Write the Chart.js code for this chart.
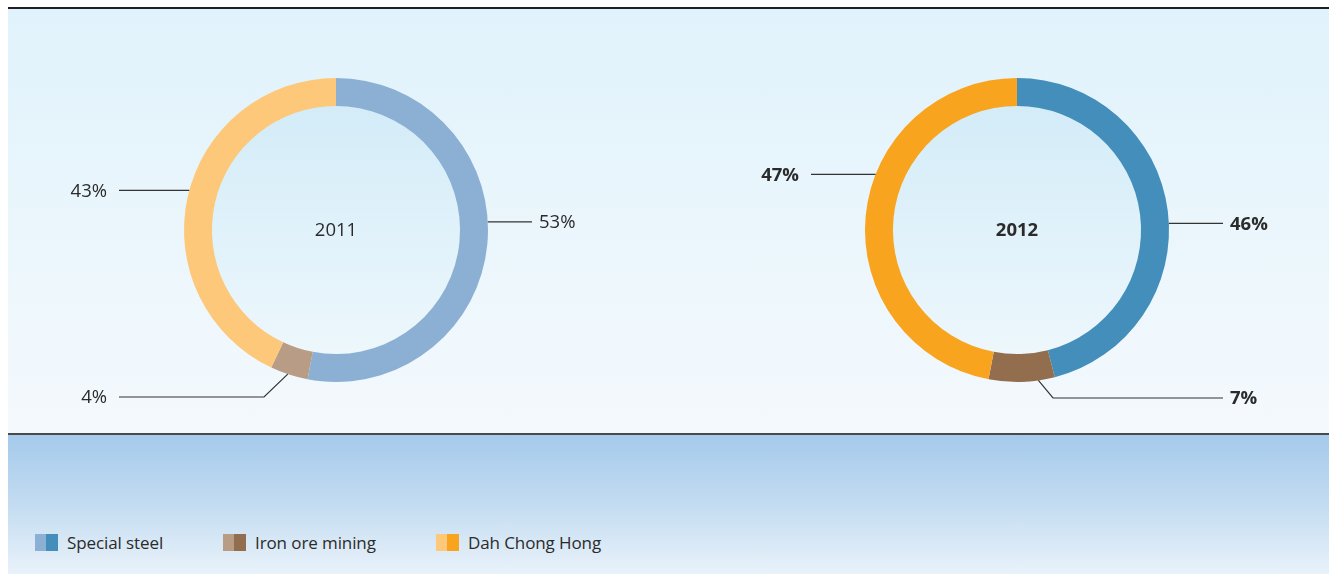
<!DOCTYPE html>
<html>
<head>
<meta charset="utf-8">
<script src="https://cdn.jsdelivr.net/npm/chart.js@4/dist/chart.umd.min.js"></script>
<style>
  html, body { margin:0; padding:0; background:#ffffff; }
  body { width:1329px; height:575px; position:relative; overflow:hidden; font-family:"Open Sans", "Noto Sans", sans-serif; }
  #topline { position:absolute; left:8px; top:7px; width:1321px; height:2px; background:#231f20; }
  #panel { position:absolute; left:8px; top:9px; width:1321px; height:424px;
           background:linear-gradient(to bottom, #e0f2fb 0%, #eaf6fc 50%, #f4f9fd 100%); }
  #sep { position:absolute; left:8px; top:433px; width:1321px; height:2px; background:#4a4a4a; }
  #bottom { position:absolute; left:8px; top:435px; width:1321px; height:139px;
            background:linear-gradient(to bottom, #a5caeb 0%, #c3dcf1 50%, #e9f2fa 100%); }
  canvas { position:absolute; }
  #c1 { left:46px; top:40px; }
  #c2 { left:727px; top:40px; }
  #legend { position:absolute; left:0; top:532px; height:20px; width:1329px; }
  .item { position:absolute; top:0; height:20px; display:flex; align-items:center; color:#2b2b2b; font-size:17px; letter-spacing:-0.1px; white-space:nowrap; }
  .sw { display:inline-block; width:23px; height:17px; margin-right:9px; }
</style>
</head>
<body>
<div id="topline"></div>
<div id="panel"></div>
<div id="sep"></div>
<div id="bottom"></div>
<canvas id="c1" width="580" height="380"></canvas>
<canvas id="c2" width="580" height="380"></canvas>
<div id="legend"></div>
<script>
// ---- data ----
const categories = ['Special steel', 'Iron ore mining', 'Dah Chong Hong'];
const years = ['2011', '2012'];
const share2011 = [53, 4, 43];
const share2012 = [46, 7, 47];
const colors2011 = ['#8cb0d3', '#b89c85', '#fdc87a'];
const colors2012 = ['#438ebb', '#926e4f', '#f8a41f'];

// ---- leader-line layout (per slice): anchor angle on outer edge (deg, canvas), optional elbow, line end ----
const leaders2011 = [
  { angle: -3.1, end: 196, side: 'right' },
  { angle: 108.5, elbow: [-72, 167], end: -217, side: 'left' },
  { angle: 195.1, end: -217, side: 'left' }
];
const leaders2012 = [
  { angle: -2.5, end: 206, side: 'right' },
  { angle: 81.9, elbow: [36, 168], end: 206, side: 'right' },
  { angle: 201.5, end: -206, side: 'left' }
];

const TEXT = '#2b2b2b';
const FONT = '"Open Sans", "Noto Sans", sans-serif';

const doughnutDecor = {
  id: 'doughnutDecor',
  beforeDatasetsDraw(chart, args, opts) {
    const arc = chart.getDatasetMeta(0).data[0];
    const ctx = chart.ctx;
    const r = arc.innerRadius;
    const g = ctx.createLinearGradient(0, arc.y - r, 0, arc.y + r);
    g.addColorStop(0, '#d3ecf8');
    g.addColorStop(1, '#edf7fc');
    ctx.save();
    ctx.beginPath();
    ctx.arc(arc.x, arc.y, r + 1, 0, Math.PI * 2);
    ctx.fillStyle = g;
    ctx.fill();
    ctx.restore();
  },
  afterDatasetsDraw(chart, args, opts) {
    const ctx = chart.ctx;
    const meta = chart.getDatasetMeta(0);
    const values = chart.data.datasets[0].data;
    const weight = opts.bold ? 'bold ' : '';
    ctx.save();
    // centre title
    const a0 = meta.data[0];
    ctx.fillStyle = TEXT;
    ctx.font = weight + '18.5px ' + FONT;
    ctx.textAlign = 'center';
    ctx.textBaseline = 'middle';
    ctx.fillText(opts.title, a0.x, a0.y + 1);
    // leaders
    ctx.strokeStyle = '#333333';
    ctx.lineWidth = 1.2;
    meta.data.forEach((arc, i) => {
      const L = opts.leaders[i];
      const ang = L.angle * Math.PI / 180;
      const R = arc.outerRadius;
      const sx = arc.x + R * Math.cos(ang);
      const sy = arc.y + R * Math.sin(ang);
      ctx.beginPath();
      ctx.moveTo(sx, sy);
      let ly = sy;
      if (L.elbow) {
        const ex = arc.x + L.elbow[0], ey = arc.y + L.elbow[1];
        ctx.lineTo(ex, ey);
        ly = ey;
      }
      const endX = arc.x + L.end;
      ctx.lineTo(endX, ly);
      ctx.stroke();
      ctx.font = weight + '18.5px ' + FONT;
      ctx.textBaseline = 'middle';
      if (L.side === 'right') {
        ctx.textAlign = 'left';
        ctx.fillText(values[i] + '%', endX + 7, ly + 1);
      } else {
        ctx.textAlign = 'right';
        ctx.fillText(values[i] + '%', endX - 12, ly + 1);
      }
    });
    ctx.restore();
  }
};

function makeChart(id, data, colors, title, leaders, bold) {
  return new Chart(document.getElementById(id), {
    type: 'doughnut',
    data: {
      labels: categories,
      datasets: [{ data: data, backgroundColor: colors, borderWidth: 0, hoverOffset: 0 }]
    },
    options: {
      responsive: false,
      animation: false,
      cutout: '81.6%',
      layout: { padding: { top: 38, bottom: 38, left: 138, right: 138 } },
      plugins: {
        legend: { display: false },
        tooltip: { enabled: false },
        doughnutDecor: { title: title, leaders: leaders, bold: bold }
      },
      events: []
    },
    plugins: [doughnutDecor]
  });
}

makeChart('c1', share2011, colors2011, years[0], leaders2011, false);
makeChart('c2', share2012, colors2012, years[1], leaders2012, true);

// ---- legend (two-tone swatches: 2011 colour | 2012 colour) ----
const legendX = [35, 223, 436];
const legend = document.getElementById('legend');
categories.forEach((name, i) => {
  const item = document.createElement('div');
  item.className = 'item';
  item.style.left = legendX[i] + 'px';
  const sw = document.createElement('span');
  sw.className = 'sw';
  sw.style.background = `linear-gradient(to right, ${colors2011[i]} 0 50%, ${colors2012[i]} 50% 100%)`;
  const t = document.createElement('span');
  t.textContent = name;
  item.appendChild(sw);
  item.appendChild(t);
  legend.appendChild(item);
});
</script>
</body>
</html>
